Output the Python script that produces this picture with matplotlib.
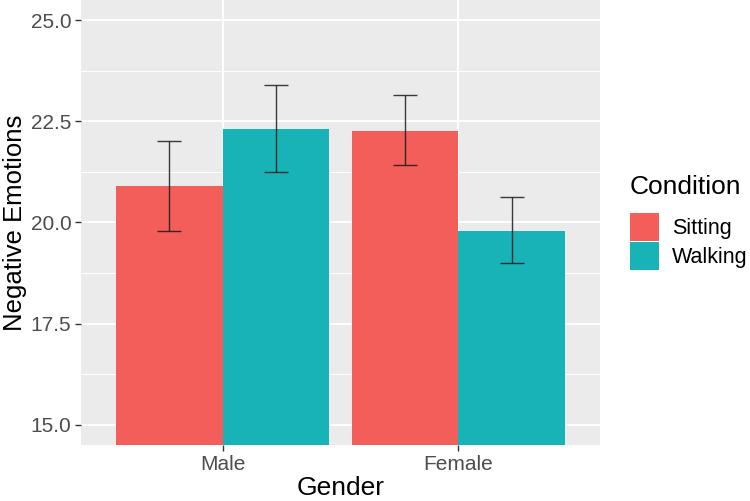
import numpy as np
import matplotlib
matplotlib.use('Agg')
import matplotlib.pyplot as plt
from matplotlib.ticker import MultipleLocator

genders = ['Male', 'Female']
conditions = ['Sitting', 'Walking']
means = {'Sitting': [20.89, 22.25], 'Walking': [22.32, 19.80]}
err_low = {'Sitting': [19.78, 21.41], 'Walking': [21.24, 19.00]}
err_high = {'Sitting': [22.02, 23.15], 'Walking': [23.41, 20.64]}
colors = {'Sitting': '#F35E5A', 'Walking': '#17B3B6'}

plt.rcParams['font.family'] = ['Liberation Sans', 'DejaVu Sans']

fig = plt.figure(figsize=(7.5, 5.01), dpi=100)
ax = fig.add_axes([0.108, 0.112, 0.692, 0.888])
ax.set_facecolor('#EBEBEB')

x = np.arange(1, len(genders) + 1)
w = 0.45
handles = []
for i, cond in enumerate(conditions):
    pos = x + (i - 0.5) * w
    b = ax.bar(pos, means[cond], width=w, color=colors[cond], zorder=3, label=cond)
    handles.append(b)
    m = np.array(means[cond])
    lo = m - np.array(err_low[cond])
    hi = np.array(err_high[cond]) - m
    ax.errorbar(pos, m, yerr=[lo, hi], fmt='none', ecolor='#1a1a1a', elinewidth=1.0,
                capsize=8.3, capthick=1.0, zorder=4, alpha=0.85)

ax.set_xlim(0.4, 2.6)
ax.set_ylim(14.5, 25.5)
ax.set_xticks(x)
ax.set_xticklabels(genders)
ax.yaxis.set_major_locator(MultipleLocator(2.5))
ax.yaxis.set_minor_locator(MultipleLocator(1.25))
ax.yaxis.set_major_formatter(matplotlib.ticker.FormatStrFormatter('%.1f'))
ax.grid(which='major', color='white', linewidth=1.4, zorder=0)
ax.grid(which='minor', axis='y', color='white', linewidth=0.7, zorder=0)
ax.set_axisbelow(True)
for s in ax.spines.values():
    s.set_visible(False)
ax.tick_params(axis='both', which='major', colors='#333333', labelcolor='#4D4D4D',
               labelsize=15, length=4, width=1.0, pad=3)
ax.tick_params(axis='both', which='minor', length=0)

ax.set_xlabel('Gender', fontsize=19, labelpad=2)
ax.set_ylabel('Negative Emotions', fontsize=18.5)
ax.yaxis.set_label_coords(-0.105, 0.5)

leg = fig.legend(handles=handles, labels=conditions, title='Condition',
                 loc='upper left', bbox_to_anchor=(0.84, 0.65), frameon=False,
                 fontsize=15.5, title_fontsize=19, handlelength=1.35, handleheight=1.6,
                 labelspacing=0.05, handletextpad=0.6, borderpad=0, borderaxespad=0)
leg._legend_box.align = 'left'
leg._legend_box.sep = 10

fig.savefig('out.png', dpi=100)
